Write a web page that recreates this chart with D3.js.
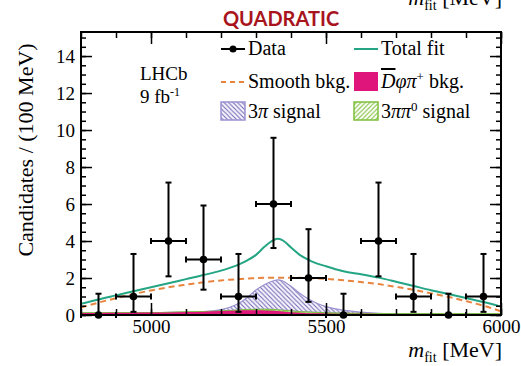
<!DOCTYPE html>
<html>
<head>
<meta charset="utf-8">
<script src="https://cdn.jsdelivr.net/npm/d3@7"></script>
<style>
  body { margin: 0; background: #fff; }
  svg { display: block; }
  text { font-family: "Liberation Serif", "DejaVu Serif", serif; fill: #000; }
</style>
</head>
<body>
<div id="chart"></div>
<script>
// ---- data ----
var binCenters = [4850, 4950, 5050, 5150, 5250, 5350, 5450, 5550, 5650, 5750, 5850, 5950];
var counts     = [0, 1, 4, 3, 1, 6, 2, 0, 4, 1, 0, 1];
var errLow     = [0, 0.83, 1.91, 1.63, 0.83, 2.38, 1.29, 0, 1.91, 0.83, 0, 0.83];
var errHigh    = [1.15, 2.30, 3.16, 2.92, 2.30, 3.58, 2.64, 1.15, 3.16, 2.30, 1.15, 2.30];
var binHalf = 50;

var massGrid = [4800, 4850, 4900, 4950, 5000, 5050, 5100, 5150, 5200, 5225, 5250, 5275, 5300, 5325, 5350, 5362,
                5375, 5400, 5425, 5450, 5475, 5500, 5550, 5600, 5650, 5700, 5750, 5800, 5850, 5900, 5950, 6000];
var totalFit   = [0.60, 0.84, 1.06, 1.28, 1.50, 1.72, 1.94, 2.16, 2.40, 2.55, 2.72, 2.95, 3.25, 3.70, 4.05, 4.12,
                  4.05, 3.65, 3.25, 2.98, 2.78, 2.64, 2.36, 2.20, 2.02, 1.80, 1.57, 1.34, 1.13, 0.92, 0.70, 0.45];
var smoothBkg  = [0.40, 0.67, 0.91, 1.13, 1.33, 1.50, 1.64, 1.77, 1.87, 1.91, 1.94, 1.97, 1.99, 2.01, 2.02, 2.02,
                  2.02, 2.02, 2.01, 2.00, 1.98, 1.95, 1.88, 1.78, 1.67, 1.52, 1.36, 1.17, 0.98, 0.75, 0.50, 0.20];
var dphipiBkg  = [0.11, 0.11, 0.12, 0.12, 0.13, 0.14, 0.16, 0.18, 0.21, 0.23, 0.25, 0.26, 0.26, 0.25, 0.23, 0.21,
                  0.19, 0.15, 0.12, 0.10, 0.09, 0.08, 0.07, 0.07, 0.06, 0.06, 0.06, 0.06, 0.06, 0.06, 0.06, 0.06];
var sig3pipi0  = [0, 0, 0, 0, 0, 0, 0, 0, 0, 0.01, 0.02, 0.03, 0.05, 0.06, 0.07, 0.07,
                  0.07, 0.07, 0.06, 0.06, 0.05, 0.04, 0.03, 0.02, 0.01, 0, 0, 0, 0, 0, 0, 0];
var sig3pi     = [0, 0, 0, 0, 0, 0, 0, 0, 0.08, 0.18, 0.35, 0.66, 1.04, 1.34, 1.55, 1.62,
                  1.59, 1.33, 1.00, 0.70, 0.48, 0.33, 0.16, 0.07, 0.02, 0.01, 0, 0, 0, 0, 0, 0];

var xMajorTicks = [5000, 5500, 6000];
var yMajorTicks = [0, 2, 4, 6, 8, 10, 12, 14];

var W = 521, H = 366;
var padL = 81, padR = 501, padT = 32, padB = 315;

var svg = d3.select("#chart").append("svg")
    .attr("width", W)
    .attr("height", H);

var x = d3.scaleLinear().domain([4800, 6000]).range([padL, padR]);
var y = d3.scaleLinear().domain([0, 15.3]).range([padB, padT]);

// patterns for the hatched signals
var defs = svg.append("defs");
var p1 = defs.append("pattern").attr("id", "hatch3pi")
    .attr("patternUnits", "userSpaceOnUse").attr("width", 4.5).attr("height", 4.5);
p1.append("rect").attr("width", 4.5).attr("height", 4.5).attr("fill", "#f7f5fd");
p1.append("path").attr("d", "M-1,-1 L5.5,5.5 M-1,3.5 L1,5.5 M3.5,-1 L5.5,1")
    .attr("stroke", "#7469b4").attr("stroke-width", 1.1);
var p2 = defs.append("pattern").attr("id", "hatch3pipi0")
    .attr("patternUnits", "userSpaceOnUse").attr("width", 4.5).attr("height", 4.5);
p2.append("rect").attr("width", 4.5).attr("height", 4.5).attr("fill", "#ffffff");
p2.append("path").attr("d", "M-1,5.5 L5.5,-1 M-1,1 L1,-1 M3.5,5.5 L5.5,3.5")
    .attr("stroke", "#7dbf3a").attr("stroke-width", 1.1);

defs.append("clipPath").attr("id", "plotclip")
    .append("rect").attr("x", padL).attr("y", padT).attr("width", padR - padL).attr("height", padB - padT);

// title and the cut off label at the very top
svg.append("text")
    .attr("x", 281).attr("y", 26)
    .attr("text-anchor", "middle")
    .style("font-family", "Lato, 'Open Sans', sans-serif")
    .style("font-weight", "bold")
    .style("font-size", "20px")
    .style("fill", "#a8141c")
    .text("QUADRATIC");

function massLabel(g, xr, yb) {
    var t = g.append("text").attr("x", xr).attr("y", yb).attr("text-anchor", "end").style("font-size", "22px");
    t.append("tspan").style("font-style", "italic").text("m");
    t.append("tspan").attr("dy", 5).style("font-size", "14px").text("fit");
    t.append("tspan").attr("dy", -5).text(" [MeV]");
}
massLabel(svg, 502, 5);

// stacked layers: pink bkg, green signal, hatched 3pi signal
var rows = massGrid.map(function(m, i) {
    var a = dphipiBkg[i];
    var b = a + sig3pipi0[i];
    var c = b + sig3pi[i];
    return {m: m, a: a, b: b, c: c, tot: totalFit[i], smooth: smoothBkg[i]};
});

var plot = svg.append("g").attr("clip-path", "url(#plotclip)");
var curve = d3.curveMonotoneX;

plot.append("path").datum(rows)
    .attr("d", d3.area().curve(curve).x(function(d) { return x(d.m); })
        .y0(function(d) { return y(d.b); }).y1(function(d) { return y(d.c); }))
    .attr("fill", "url(#hatch3pi)")
    .attr("stroke", "#9a90d0").attr("stroke-width", 1.2);

plot.append("path").datum(rows)
    .attr("d", d3.area().curve(curve).x(function(d) { return x(d.m); })
        .y0(function(d) { return y(d.a); }).y1(function(d) { return y(d.b); }))
    .attr("fill", "url(#hatch3pipi0)")
    .attr("stroke", "#7dbf3a").attr("stroke-width", 1);

plot.append("path").datum(rows)
    .attr("d", d3.area().curve(curve).x(function(d) { return x(d.m); })
        .y0(y(0)).y1(function(d) { return y(d.a); }))
    .attr("fill", "#e0157c");

plot.append("path").datum(rows)
    .attr("d", d3.line().curve(curve).x(function(d) { return x(d.m); }).y(function(d) { return y(d.smooth); }))
    .attr("fill", "none").attr("stroke", "#e8843e").attr("stroke-width", 2)
    .attr("stroke-dasharray", "6,4");

plot.append("path").datum(rows)
    .attr("d", d3.line().curve(curve).x(function(d) { return x(d.m); }).y(function(d) { return y(d.tot); }))
    .attr("fill", "none").attr("stroke", "#24a584").attr("stroke-width", 2);

// data points with error bars
var pts = binCenters.map(function(m, i) {
    return {m: m, n: counts[i], lo: counts[i] - errLow[i], hi: counts[i] + errHigh[i]};
});
var dataG = svg.append("g").attr("stroke", "#000").attr("stroke-width", 2);
var cap = 3;
pts.forEach(function(d) {
    var cx = x(d.m), cy = y(d.n);
    dataG.append("line").attr("x1", cx).attr("x2", cx).attr("y1", y(d.lo)).attr("y2", y(d.hi));
    dataG.append("line").attr("x1", cx - cap).attr("x2", cx + cap).attr("y1", y(d.hi)).attr("y2", y(d.hi));
    if (d.lo > 0) {
        dataG.append("line").attr("x1", cx - cap).attr("x2", cx + cap).attr("y1", y(d.lo)).attr("y2", y(d.lo));
    }
    dataG.append("line").attr("x1", x(d.m - binHalf)).attr("x2", x(d.m + binHalf)).attr("y1", cy).attr("y2", cy);
    dataG.append("line").attr("x1", x(d.m - binHalf)).attr("x2", x(d.m - binHalf)).attr("y1", cy - cap).attr("y2", cy + cap);
    dataG.append("line").attr("x1", x(d.m + binHalf)).attr("x2", x(d.m + binHalf)).attr("y1", cy - cap).attr("y2", cy + cap);
    dataG.append("circle").attr("cx", cx).attr("cy", cy).attr("r", 3.8).attr("fill", "#000").attr("stroke", "none");
});

// axes, ROOT style ticks pointing inward on all four sides
var xMinor = d3.range(4800, 6001, 100);
var yMinor = d3.range(0, 15.01, 0.5);

function styleAxis(g) {
    g.select(".domain").remove();
    g.attr("font-family", null);
    g.selectAll("line").attr("stroke", "#000").attr("stroke-width", 1.5);
    g.selectAll("text").style("font-family", "'Liberation Serif', serif").style("font-size", "19px").attr("fill", "#000");
}

svg.append("g").attr("transform", "translate(0," + padB + ")")
    .call(d3.axisBottom(x).tickValues(xMinor).tickSize(-6).tickFormat("")).call(styleAxis);
svg.append("g").attr("transform", "translate(0," + padB + ")")
    .call(d3.axisBottom(x).tickValues(xMajorTicks).tickSize(-12).tickPadding(5).tickFormat(d3.format("d"))).call(styleAxis);
svg.append("g").attr("transform", "translate(0," + padT + ")")
    .call(d3.axisTop(x).tickValues(xMinor).tickSize(-6).tickFormat("")).call(styleAxis);
svg.append("g").attr("transform", "translate(0," + padT + ")")
    .call(d3.axisTop(x).tickValues(xMajorTicks).tickSize(-12).tickFormat("")).call(styleAxis);

svg.append("g").attr("transform", "translate(" + padL + ",0)")
    .call(d3.axisLeft(y).tickValues(yMinor).tickSize(-5).tickFormat("")).call(styleAxis);
svg.append("g").attr("transform", "translate(" + padL + ",0)")
    .call(d3.axisLeft(y).tickValues(yMajorTicks).tickSize(-11).tickPadding(6).tickFormat(d3.format("d"))).call(styleAxis);
svg.append("g").attr("transform", "translate(" + padR + ",0)")
    .call(d3.axisRight(y).tickValues(yMinor).tickSize(-5).tickFormat("")).call(styleAxis);
svg.append("g").attr("transform", "translate(" + padR + ",0)")
    .call(d3.axisRight(y).tickValues(yMajorTicks).tickSize(-11).tickFormat("")).call(styleAxis);

svg.append("rect")
    .attr("x", padL).attr("y", padT).attr("width", padR - padL).attr("height", padB - padT)
    .attr("fill", "none").attr("stroke", "#000").attr("stroke-width", 2);

// axis titles
massLabel(svg, 502, 357);
svg.append("text")
    .attr("transform", "translate(33,150) rotate(-90)")
    .attr("text-anchor", "middle")
    .style("font-size", "22px")
    .text("Candidates / (100 MeV)");

// LHCb label
svg.append("text").attr("x", 140).attr("y", 80).style("font-size", "19px").text("LHCb");
var lumi = svg.append("text").attr("x", 140).attr("y", 103).style("font-size", "19px");
lumi.append("tspan").text("9 fb");
lumi.append("tspan").attr("dy", -7).style("font-size", "12px").text("-1");

// legend
var leg = svg.append("g");
var c1 = 221, c2 = 354, tx = 27, fs = "20px";
var r1 = 55, r2 = 88, r3 = 118;

leg.append("line").attr("x1", c1).attr("x2", c1 + 24).attr("y1", r1 - 6).attr("y2", r1 - 6)
    .attr("stroke", "#000").attr("stroke-width", 2);
leg.append("circle").attr("cx", c1 + 12).attr("cy", r1 - 6).attr("r", 3.5).attr("fill", "#000");
leg.append("text").attr("x", c1 + tx).attr("y", r1).style("font-size", fs).text("Data");

leg.append("line").attr("x1", c1).attr("x2", c1 + 24).attr("y1", r2 - 6).attr("y2", r2 - 6)
    .attr("stroke", "#e8843e").attr("stroke-width", 2).attr("stroke-dasharray", "5,4");
leg.append("text").attr("x", c1 + tx).attr("y", r2).style("font-size", fs).text("Smooth bkg.");

leg.append("rect").attr("x", c1).attr("y", r3 - 16).attr("width", 24).attr("height", 18)
    .attr("fill", "url(#hatch3pi)").attr("stroke", "#9a90d0").attr("stroke-width", 1.5);
var t3 = leg.append("text").attr("x", c1 + tx).attr("y", r3).style("font-size", fs);
t3.append("tspan").text("3");
t3.append("tspan").style("font-style", "italic").text("π");
t3.append("tspan").text(" signal");

leg.append("line").attr("x1", c2).attr("x2", c2 + 24).attr("y1", r1 - 6).attr("y2", r1 - 6)
    .attr("stroke", "#24a584").attr("stroke-width", 2);
leg.append("text").attr("x", c2 + tx).attr("y", r1).style("font-size", fs).text("Total fit");

leg.append("rect").attr("x", c2).attr("y", r2 - 16).attr("width", 24).attr("height", 19)
    .attr("fill", "#e0157c");
var t5 = leg.append("text").attr("x", c2 + tx).attr("y", r2).style("font-size", fs);
t5.append("tspan").style("font-style", "italic").style("text-decoration", "overline").text("D");
t5.append("tspan").style("font-style", "italic").text("φπ");
t5.append("tspan").attr("dy", -7).style("font-size", "13px").text("+");
t5.append("tspan").attr("dy", 7).text(" bkg.");

leg.append("rect").attr("x", c2).attr("y", r3 - 16).attr("width", 24).attr("height", 18)
    .attr("fill", "url(#hatch3pipi0)").attr("stroke", "#7dbf3a").attr("stroke-width", 1.5);
var t6 = leg.append("text").attr("x", c2 + tx).attr("y", r3).style("font-size", fs);
t6.append("tspan").text("3");
t6.append("tspan").style("font-style", "italic").text("ππ");
t6.append("tspan").attr("dy", -7).style("font-size", "13px").text("0");
t6.append("tspan").attr("dy", 7).text(" signal");
</script>
</body>
</html>
